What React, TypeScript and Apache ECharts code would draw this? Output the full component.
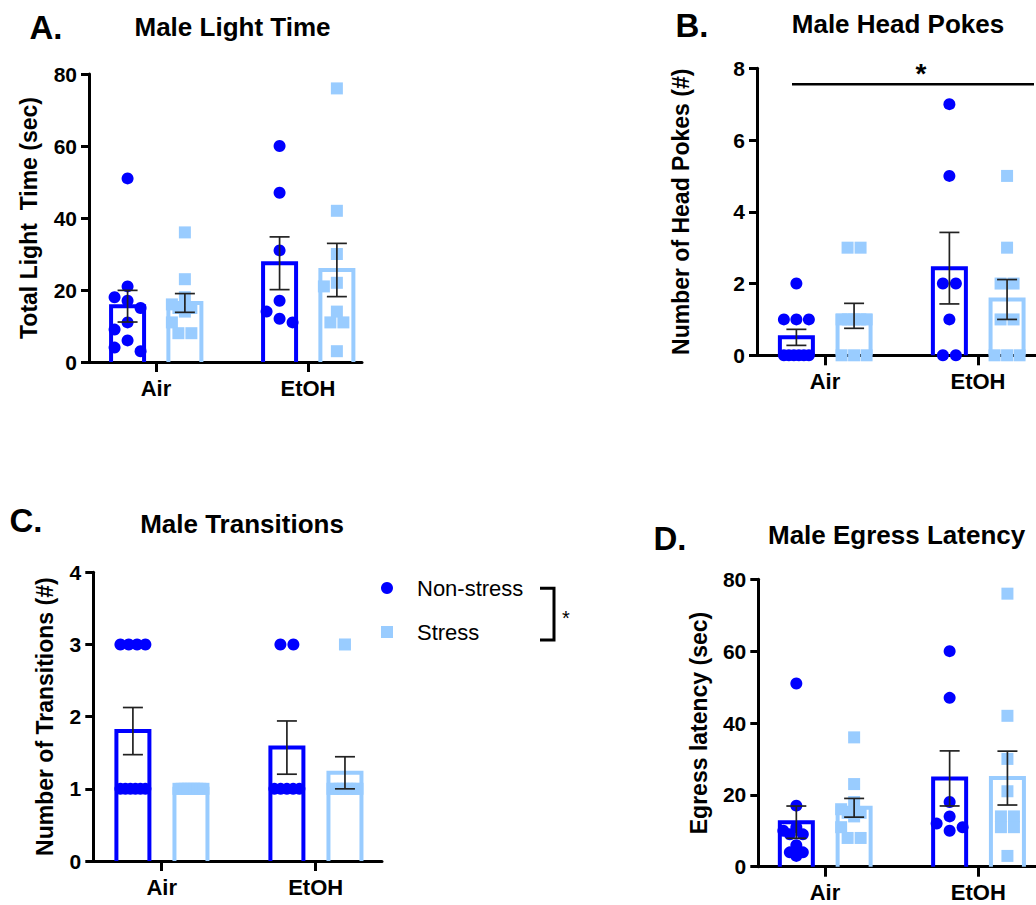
import React, { useEffect, useRef } from 'react';
import * as echarts from 'echarts';

// ---------- data ----------
const groups = ['Air', 'EtOH'];
const seriesNames = ['Non-stress', 'Stress'];

// A. Male Light Time (sec)
const lightAirNon = [51, 21, 18, 17, 15, 11, 9, 6, 4, 3];
const lightAirStress = [36, 23, 18, 16, 15, 15, 14, 11, 8, 8];
const lightEtohNon = [60, 47, 31, 17, 14, 12, 11];
const lightEtohStress = [76, 42, 30, 22, 21, 14, 11, 11, 3];

// B. Male Head Pokes (#)
const pokesAirNon = [2, 1, 1, 1, 0, 0, 0, 0, 0, 0];
const pokesAirStress = [3, 3, 1, 1, 1, 1, 1, 0, 0, 0];
const pokesEtohNon = [7, 5, 2, 2, 1, 0, 0];
const pokesEtohStress = [5, 3, 2, 2, 1, 1, 0, 0, 0];

// C. Male Transitions (#)
const transAirNon = [3, 3, 3, 3, 1, 1, 1, 1, 1, 1];
const transAirStress = [1, 1, 1, 1, 1, 1, 1, 1, 1];
const transEtohNon = [3, 3, 1, 1, 1, 1, 1];
const transEtohStress = [3, 1, 1, 1, 1, 1, 1, 1, 1];

// D. Male Egress Latency (sec)
const egressAirNon = [51, 17, 11, 10, 9, 9, 6, 4, 4, 3];
const egressAirStress = [36, 23, 18, 16, 15, 15, 14, 11, 8, 8];
const egressEtohNon = [60, 47, 18, 14, 12, 11, 10];
const egressEtohStress = [76, 42, 30, 21, 14, 14, 11, 11, 3];

const ticksA = [0, 20, 40, 60, 80];
const ticksB = [0, 2, 4, 6, 8];
const ticksC = [0, 1, 2, 3, 4];
const ticksD = [0, 20, 40, 60, 80];

// ---------- style / layout ----------
const FONT = "'Liberation Sans', Arial, Helvetica, sans-serif";
const NON_COLOR = '#0000FF';
const STRESS_COLOR = '#99CCFF';
const ERR_COLOR = '#222222';
const NON_OFF = -0.187;
const STRESS_OFF = 0.19;

const panels = [
  {
    letter: 'A.', title: 'Male Light Time', yName: 'Total Light  Time (sec)',
    data: [[lightAirNon, lightEtohNon], [lightAirStress, lightEtohStress]], ticks: ticksA,
    left: 89, top: 74, width: 273, height: 288, airPx: 156, etohPx: 308, nameGap: 49,
  },
  {
    letter: 'B.', title: 'Male Head Pokes', yName: 'Number of Head Pokes (#)',
    data: [[pokesAirNon, pokesEtohNon], [pokesAirStress, pokesEtohStress]], ticks: ticksB,
    left: 757, top: 68.3, width: 279, height: 287, airPx: 825, etohPx: 978, nameGap: 65,
  },
  {
    letter: 'C.', title: 'Male Transitions', yName: 'Number of Transitions (#)',
    data: [[transAirNon, transEtohNon], [transAirStress, transEtohStress]], ticks: ticksC,
    left: 93.3, top: 572.3, width: 288.7, height: 288.7, airPx: 161.7, etohPx: 315.7, nameGap: 37,
  },
  {
    letter: 'D.', title: 'Male Egress Latency', yName: 'Egress latency (sec)',
    data: [[egressAirNon, egressEtohNon], [egressAirStress, egressEtohStress]], ticks: ticksD,
    left: 758.3, top: 579.3, width: 277.7, height: 287.4, airPx: 825, etohPx: 978.3, nameGap: 48,
  },
];

function mean(a: number[]) {
  return a.reduce((s, v) => s + v, 0) / a.length;
}
function sem(a: number[]) {
  const m = mean(a);
  const v = a.reduce((s, x) => s + (x - m) * (x - m), 0) / (a.length - 1);
  return Math.sqrt(v / a.length);
}

// horizontal spreading of points (pixel offsets), like a column scatter
function spread(values: number[], pxPerUnit: number): number[] {
  const SYM = 12, STEP = 13, MAXSPAN = 25;
  const n = values.length;
  const off = new Array(n).fill(0);
  const done = new Array(n).fill(false);
  const placed: { x: number; y: number }[] = [];
  const order = values.map((_, i) => i).sort((a, b) => values[b] - values[a]);
  for (const i of order) {
    if (done[i]) continue;
    const same = order.filter((j) => !done[j] && values[j] === values[i]);
    const k = same.length;
    const y = values[i] * pxPerUnit;
    if (k > 1) {
      const sp = Math.min(STEP, MAXSPAN / (k - 1));
      same.forEach((j, idx) => {
        off[j] = (idx - (k - 1) / 2) * sp;
        done[j] = true;
        placed.push({ x: off[j], y });
      });
    } else {
      const cands = [0, -STEP, STEP];
      let chosen = 0;
      let best = -1;
      for (const c of cands) {
        const dmin = placed.reduce((m, p) => Math.min(m, Math.hypot(p.x - c, p.y - y)), Infinity);
        if (dmin >= SYM) {
          chosen = c;
          break;
        }
        if (dmin > best) {
          best = dmin;
          chosen = c;
        }
      }
      off[i] = chosen;
      done[i] = true;
      placed.push({ x: chosen, y });
    }
  }
  return off;
}

const barRenderer = (color: string) => (params: any, api: any) => {
  const x = api.value(0);
  const y = api.value(1);
  const top = api.coord([x, y]);
  const base = api.coord([x, 0]);
  const hw = 16.5;
  return {
    type: 'polyline',
    shape: {
      points: [
        [top[0] - hw, base[1]],
        [top[0] - hw, top[1]],
        [top[0] + hw, top[1]],
        [top[0] + hw, base[1]],
      ],
    },
    style: { stroke: color, lineWidth: 4, fill: null, lineJoin: 'miter' },
  };
};

const errRenderer = (params: any, api: any) => {
  const x = api.value(0);
  const m = api.value(1);
  const s = api.value(2);
  if (!(s > 0)) return null;
  const hi = api.coord([x, m + s]);
  const lo = api.coord([x, m - s]);
  const cw = 10;
  const st = { stroke: ERR_COLOR, lineWidth: 1.7 };
  return {
    type: 'group',
    children: [
      { type: 'line', shape: { x1: hi[0], y1: hi[1], x2: lo[0], y2: lo[1] }, style: st },
      { type: 'line', shape: { x1: hi[0] - cw, y1: hi[1], x2: hi[0] + cw, y2: hi[1] }, style: st },
      { type: 'line', shape: { x1: lo[0] - cw, y1: lo[1], x2: lo[0] + cw, y2: lo[1] }, style: st },
    ],
  };
};

function buildOption() {
  const grid: any[] = [];
  const xAxis: any[] = [];
  const yAxis: any[] = [];
  const series: any[] = [];

  panels.forEach((p, i) => {
    const u = p.etohPx - p.airPx;
    const xMin = 1 - (p.airPx - p.left) / u;
    const xMax = xMin + p.width / u;
    const yMax = p.ticks[p.ticks.length - 1];
    const yInt = p.ticks[1] - p.ticks[0];
    grid.push({ left: p.left, top: p.top, width: p.width, height: p.height, containLabel: false });
    xAxis.push({
      gridIndex: i,
      type: 'value',
      min: xMin,
      max: xMax,
      splitLine: { show: false },
      axisLine: { show: true, onZero: false, lineStyle: { color: '#000', width: 3 } },
      axisTick: { show: true, customValues: [1, 2], length: 10, lineStyle: { color: '#000', width: 3 } },
      axisLabel: {
        customValues: [1, 2],
        formatter: (v: number) => groups[Math.round(v) - 1] || '',
        margin: 15,
        color: '#000',
        fontFamily: FONT,
        fontWeight: 'bold',
        fontSize: 22,
      },
    });
    yAxis.push({
      gridIndex: i,
      type: 'value',
      min: 0,
      max: yMax,
      interval: yInt,
      splitLine: { show: false },
      axisLine: { show: true, onZero: false, lineStyle: { color: '#000', width: 3 } },
      axisTick: { show: true, length: 8, lineStyle: { color: '#000', width: 3 } },
      axisLabel: { margin: 12, color: '#000', fontFamily: FONT, fontWeight: 'bold', fontSize: 21 },
      name: p.yName,
      nameLocation: 'middle',
      nameGap: p.nameGap,
      nameTextStyle: { color: '#000', fontFamily: FONT, fontWeight: 'bold', fontSize: 23 },
    });

    [0, 1].forEach((cond) => {
      const offs = cond === 0 ? NON_OFF : STRESS_OFF;
      const color = cond === 0 ? NON_COLOR : STRESS_COLOR;
      const gData = p.data[cond];
      const stats = gData.map((vals, g) => [g + 1 + offs, mean(vals), sem(vals)]);
      series.push({
        type: 'custom',
        name: seriesNames[cond] + ' mean',
        xAxisIndex: i,
        yAxisIndex: i,
        z: 2,
        silent: true,
        encode: { x: 0, y: 1 },
        data: stats,
        renderItem: barRenderer(color),
      });
      const pts: any[] = [];
      gData.forEach((vals, g) => {
        const j = spread(vals, p.height / yMax);
        vals.forEach((v, k) => pts.push({ value: [g + 1 + offs, v], symbolOffset: [j[k], 0] }));
      });
      series.push({
        type: 'scatter',
        name: seriesNames[cond],
        xAxisIndex: i,
        yAxisIndex: i,
        z: 3,
        symbol: cond === 0 ? 'circle' : 'rect',
        symbolSize: 12,
        itemStyle: { color, opacity: 1 },
        silent: true,
        data: pts,
      });
      series.push({
        type: 'custom',
        name: seriesNames[cond] + ' SEM',
        xAxisIndex: i,
        yAxisIndex: i,
        z: 4,
        silent: true,
        encode: { x: 0, y: 1 },
        data: stats,
        renderItem: errRenderer,
      });
    });
  });

  const letterStyle = { fill: '#000', font: `bold 33px ${FONT}`, textAlign: 'center', textVerticalAlign: 'middle' };
  const titleStyle = { fill: '#000', font: `bold 26px ${FONT}`, textVerticalAlign: 'middle' };

  const graphic: any[] = [
    { type: 'text', x: 46, y: 27, style: { ...letterStyle, text: panels[0].letter } },
    { type: 'text', x: 232.5, y: 27, style: { ...titleStyle, textAlign: 'center', text: panels[0].title } },
    { type: 'text', x: 692, y: 25, style: { ...letterStyle, text: panels[1].letter } },
    { type: 'text', x: 898, y: 24, style: { ...titleStyle, textAlign: 'center', text: panels[1].title } },
    { type: 'text', x: 26, y: 520, style: { ...letterStyle, text: panels[2].letter } },
    { type: 'text', x: 242, y: 524, style: { ...titleStyle, textAlign: 'center', text: panels[2].title } },
    { type: 'text', x: 670, y: 538, style: { ...letterStyle, text: panels[3].letter } },
    { type: 'text', x: 768, y: 535, style: { ...titleStyle, textAlign: 'left', text: panels[3].title } },
    // B significance
    { type: 'line', shape: { x1: 792, y1: 84.3, x2: 1034, y2: 84.3 }, style: { stroke: '#000', lineWidth: 2.6 } },
    { type: 'text', x: 921, y: 73, style: { text: '*', fill: '#000', font: `bold 28px ${FONT}`, textAlign: 'center', textVerticalAlign: 'middle' } },
    // C bracket
    {
      type: 'polyline',
      shape: { points: [[540, 588.3], [554, 588.3], [554, 640], [540, 640]] },
      style: { stroke: '#000', lineWidth: 3, fill: null },
    },
    { type: 'text', x: 566, y: 618, style: { text: '*', fill: '#000', font: `20px ${FONT}`, textAlign: 'center', textVerticalAlign: 'middle' } },
  ];

  return {
    animation: false,
    backgroundColor: '#ffffff',
    grid,
    xAxis,
    yAxis,
    series,
    graphic,
    legend: {
      orient: 'vertical',
      left: 376,
      top: 572,
      itemWidth: 12,
      itemHeight: 12,
      itemGap: 22,
      selectedMode: false,
      textStyle: { color: '#000', fontFamily: FONT, fontSize: 22, padding: [0, 0, 0, 19] },
      data: [
        { name: 'Non-stress', icon: 'circle' },
        { name: 'Stress', icon: 'rect' },
      ],
    },
  };
}

export default function App() {
  const ref = useRef<HTMLDivElement>(null);
  useEffect(() => {
    if (!ref.current) return;
    const chart = echarts.init(ref.current, undefined, { renderer: 'svg' });
    chart.setOption(buildOption() as any);
    return () => chart.dispose();
  }, []);
  return (
    <div
      ref={ref}
      style={{ position: 'absolute', left: 0, top: 0, width: 1036, height: 905, background: '#fff' }}
    />
  );
}
